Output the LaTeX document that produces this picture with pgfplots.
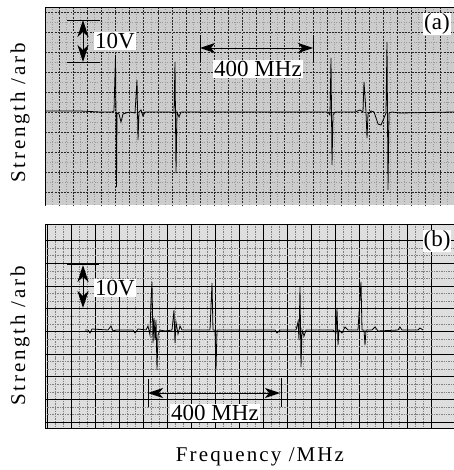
\documentclass[border=0pt]{standalone}
\usepackage{fontspec}
\setmainfont{Liberation Serif}
\newfontfamily\spacedfont[LetterSpace=10]{Liberation Serif}
\newfontfamily\widefont[LetterSpace=13]{Liberation Serif}
\usepackage{pgfplots}
\pgfplotsset{compat=1.18}
\usetikzlibrary{arrows.meta}
\begin{document}
\begin{tikzpicture}
\useasboundingbox (0bp,0bp) rectangle (454bp,470bp);
\pgfplotsset{panel/.style={scale only axis, width=409bp, y dir=reverse,
  xmin=45, xmax=454, axis line style={draw=none},
  xticklabels={}, yticklabels={}, major tick length=0pt, minor tick length=0pt,
  grid=both, clip=true}}
\tikzset{
  bigdbl/.style={line width=1pt, {Stealth[length=17bp,width=11bp,inset=5bp]}-{Stealth[length=17bp,width=11bp,inset=5bp]}},
  middbl/.style={line width=1pt, {Stealth[length=15bp,width=10bp,inset=4bp]}-{Stealth[length=15bp,width=10bp,inset=4bp]}},
  lbl/.style={fill=white, inner sep=1.2bp, font=\fontsize{23bp}{25bp}\selectfont}
}
% ---------------- panel (a) ----------------
\begin{axis}[panel, at={(45bp,265bp)}, anchor=south west, height=198bp,
  ymin=7, ymax=205,
  axis background/.style={fill=black!20},
  xtick={45,59.1,...,454}, ytick={12,32,...,192},
  minor x tick num=1, minor y tick num=1,
  major grid style={black!85, line width=0.5pt, dash pattern=on 2pt off 1.2pt},
  minor grid style={black!40, line width=0.4pt, dash pattern=on 1pt off 1.5pt}]
\addplot[black, line width=0.8pt] coordinates {
(45,111) (80,111) (100,112) (112,112) (114,111) (115.5,55) (116.5,187) (117,113)
(119,114) (121,122) (123,114) (126,113) (130,112) (135,113) (137,80) (138,140)
(139,112) (141,110) (143,116) (145,112) (170,112) (174,113) (175,62) (176,173)
(177,112) (179,117) (181,112) (250,112) (300,112) (328,112) (330,115) (331,58)
(332,165) (333,115) (335,112) (355,112) (360,110) (363,112) (364,82) (366,112)
(367,138) (368,114) (371,111) (374,112) (376,118) (378,124) (381,125) (384,118)
(386,113) (387,42) (388,190) (389,113) (392,112) (400,113) (454,112)};
% 10V scale
\draw[line width=1pt] (axis cs:67,20) -- (axis cs:100,20);
\draw[line width=1pt] (axis cs:67,62) -- (axis cs:100,62);
\draw[bigdbl] (axis cs:83,20) -- (axis cs:83,62);
\node[lbl] at (axis cs:115,41) {10V};
% 400 MHz scale
\draw[line width=1pt] (axis cs:200,35) -- (axis cs:200,62);
\draw[line width=1pt] (axis cs:313,35) -- (axis cs:313,62);
\draw[middbl] (axis cs:200,48) -- (axis cs:313,48);
\node[lbl] at (axis cs:258,69) {400 MHz};
\node[lbl, inner sep=0.8bp] at (axis cs:437,24) {(a)};
\draw[line width=0.9pt] (rel axis cs:1,1) -- (rel axis cs:0,1) -- (rel axis cs:0,0) -- (rel axis cs:1,0);
\end{axis}
% ---------------- panel (b) ----------------
\begin{axis}[panel, at={(45bp,42bp)}, anchor=south west, height=204bp,
  ymin=224, ymax=428,
  axis background/.style={fill=black!13},
  xtick={47.5,71.5,...,440}, ytick={240.5,263.2,285.9,308.6,331.3,354,376.7,399.4,422.1},
  minor x tick num=2, minor y tick num=2,
  major grid style={black, line width=0.7pt},
  minor grid style={black!50, line width=0.4pt, dash pattern=on 1.5pt off 1pt}]
\addplot[black, line width=0.8pt] coordinates {
(85,330) (88,330) (90,333) (92,329) (108,330) (111,326) (113,331) (116,330)
(133,330) (135,333) (138,329) (146,330) (148,326) (150,335) (151,300) (152,282)
(153,343) (154,318) (155,340) (156,320) (157,370) (158,335) (160,330) (165,331)
(172,330) (174,310) (175,343) (176,322) (178,334) (180,326) (182,330) (210,330)
(212,283) (213,330) (215,330) (216,370) (217,330) (220,330) (260,330) (275,330)
(277,333) (280,330) (296,330) (298,322) (299,340) (300,287) (301,367) (302,330)
(304,336) (306,330) (333,330) (336,333) (337,308) (338,345) (339,330) (342,333)
(345,327) (348,330) (358,330) (361,282) (362,330) (364,330) (365,345) (366,330)
(372,330) (375,327) (378,331) (398,330) (400,327) (402,330) (418,330) (420,328)
(423,330)};
% 10V scale
\draw[line width=1pt] (axis cs:67,264) -- (axis cs:99,264);
\draw[bigdbl] (axis cs:83,265) -- (axis cs:83,308);
\node[lbl] at (axis cs:115,288) {10V};
% 400 MHz scale
\draw[line width=1pt] (axis cs:148,379) -- (axis cs:148,407);
\draw[line width=1pt] (axis cs:281,378) -- (axis cs:281,407);
\draw[middbl] (axis cs:148,393) -- (axis cs:280,393);
\node[lbl] at (axis cs:215,413) {400 MHz};
\node[lbl, inner sep=0.8bp] at (axis cs:437,241) {(b)};
\draw[line width=0.9pt] (rel axis cs:1,1) -- (rel axis cs:0,1) -- (rel axis cs:0,0) -- (rel axis cs:1,0);
\end{axis}
% axis titles
\node[rotate=90, font=\widefont\fontsize{21bp}{23bp}\selectfont] at (20bp,357bp) {Strength /arb};
\node[rotate=90, font=\widefont\fontsize{21bp}{23bp}\selectfont] at (20bp,134bp) {Strength /arb};
\node[font=\spacedfont\fontsize{21bp}{23bp}\selectfont] at (260bp,13bp) {Frequency /MHz};
\end{tikzpicture}
\end{document}
